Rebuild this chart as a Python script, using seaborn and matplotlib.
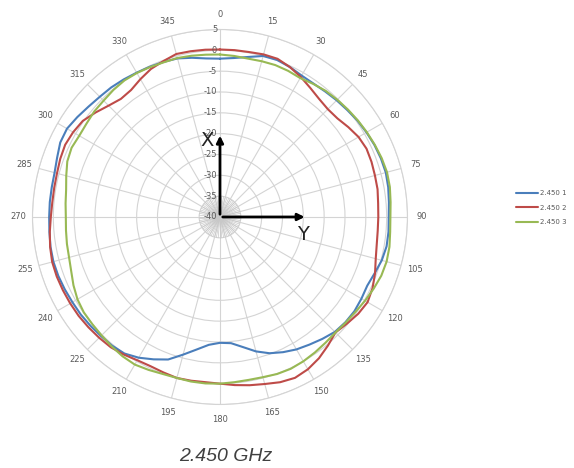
import numpy as np
import pandas as pd
import matplotlib
matplotlib.use("Agg")
import matplotlib.pyplot as plt
import matplotlib.transforms as mtransforms
import seaborn as sns

# angles (deg) measured every 5 degrees
angles = list(range(0, 360, 5))

# gain in dB
serie_1 = [-2.0, -1.7, -1.0, 0.0, 0.1, -0.3, -0.8, -0.9, -0.7, -0.4, -0.1, 0.3,
           0.6, 0.9, 1.1, 1.2, 1.0, 0.7, 0.5, 0.6, 0.6, 0.2, -0.5, -1.0,
           -0.8, -0.6, -0.7, -1.0, -1.8, -2.6, -3.3, -4.2, -5.2, -6.6, -8.3, -9.6,
           -9.8, -9.2, -7.7, -5.8, -3.6, -2.3, -1.0, 0.0, 0.3, 0.4, 0.6, 0.8,
           0.9, 1.1, 1.3, 1.4, 1.3, 1.1, 1.0, 1.0, 1.0, 1.1, 1.6, 2.3,
           2.4, 1.8, 1.2, 0.8, 0.6, 0.3, 0.0, -0.2, -0.4, -0.6, -1.2, -1.8]
serie_2 = [0.2, 0.2, 0.2, 0.4, 0.4, -0.3, -1.2, -2.2, -3.0, -3.4, -3.2, -2.4,
           -1.6, -1.2, -1.3, -1.5, -1.6, -1.9, -2.0, -2.0, -1.8, -1.3, -0.4, 0.4,
           0.9, 0.5, -0.2, -0.8, 0.3, 1.4, 2.2, 2.6, 2.2, 1.5, 1.0, 0.5,
           0.0, -0.2, -0.1, 0.0, -0.3, -0.5, -0.3, 0.3, 0.8, 1.0, 1.2, 1.4,
           1.5, 1.6, 1.7, 1.7, 1.4, 1.0, 0.6, 0.4, 0.4, 0.5, 0.8, 1.0,
           0.7, 0.2, -1.0, -2.2, -3.0, -2.8, -1.8, -0.8, -0.2, 0.5, 0.4, 0.3]
serie_3 = [-1.0, -1.2, -1.4, -1.3, -1.2, -1.3, -1.5, -1.0, -0.5, -0.2, 0.1, 0.4,
           0.7, 1.0, 1.3, 1.5, 1.4, 1.1, 0.9, 1.0, 1.3, 1.4, 1.2, 0.7,
           0.2, -0.3, -0.6, -0.8, -0.6, -0.3, 0.0, 0.2, 0.1, -0.2, -0.3, -0.2,
           0.0, 0.1, 0.1, 0.0, 0.1, 0.5, 0.9, 0.8, 0.5, 0.2, 0.0, -0.1,
           -0.5, -1.2, -2.0, -2.5, -2.7, -2.9, -3.0, -2.8, -2.5, -1.8, -1.0, -0.7,
           -1.0, -0.9, -0.6, -0.5, -0.2, 0.0, -0.1, -0.3, -0.5, -0.5, -0.7, -0.9]

noms = ["2.450 1", "2.450 2", "2.450 3"]
couleurs = {"2.450 1": "#4A7EBB", "2.450 2": "#BE4B48", "2.450 3": "#98B954"}
r_ticks = list(range(-40, 6, 5))
theta_ticks = list(range(0, 360, 15))

# tableau long, boucle fermee
rows = []
for nom, vals in zip(noms, [serie_1, serie_2, serie_3]):
    for a, v in zip(angles + [360], vals + [vals[0]]):
        rows.append({"theta": np.deg2rad(a), "dB": v, "serie": nom})
df = pd.DataFrame(rows)

sns.set_style("white")
fig = plt.figure(figsize=(5.74, 4.68), dpi=100)
ax = fig.add_axes([0.0566, 0.1357, 0.6533, 0.8013], projection="polar")
ax.set_theta_zero_location("N")
ax.set_theta_direction(-1)

sns.lineplot(data=df, x="theta", y="dB", hue="serie", palette=couleurs,
             sort=False, estimator=None, lw=1.5, ax=ax, legend=False)

ax.set_ylim(-40, 5)
ax.set_yticks(r_ticks)
ax.set_yticklabels([])
ax.set_thetagrids(theta_ticks, labels=[str(a) for a in theta_ticks])
ax.tick_params(axis="x", pad=0, labelsize=6, colors="#595959")
ax.grid(True, color="#d4d4d4", lw=0.8)
ax.spines["polar"].set_color("#d4d4d4")
ax.spines["polar"].set_linewidth(0.8)
ax.set_xlabel("")
ax.set_ylabel("")

# rayons fins au centre
for a in range(0, 360, 5):
    ax.plot([np.deg2rad(a)] * 2, [-40, -35], color="#c8c8c8", lw=0.5, zorder=1)

# etiquettes radiales
trans = mtransforms.offset_copy(ax.transData, fig=fig, x=-2, y=0, units="points")
for r in r_ticks:
    ax.text(0, r, str(r), transform=trans, ha="right", va="center",
            fontsize=6, color="#595959")

# fleches X / Y
ax.annotate("", xy=(0, -19.8), xytext=(0, -40),
            arrowprops=dict(arrowstyle="-|>", color="black", lw=2, mutation_scale=10))
ax.annotate("", xy=(np.pi / 2, -19.0), xytext=(0, -40),
            arrowprops=dict(arrowstyle="-|>", color="black", lw=2, mutation_scale=10))
fig.text(0.361, 0.70, "X", fontsize=14, ha="center", va="center", color="#222222")
fig.text(0.527, 0.500, "Y", fontsize=14, ha="center", va="center", color="#222222")

# legende
handles = [plt.Line2D([], [], color=couleurs[n], lw=1.5) for n in noms]
fig.legend(handles, noms, loc="center left", bbox_to_anchor=(0.888, 0.556),
           frameon=False, fontsize=5, handlelength=3.2, labelspacing=1.2,
           handletextpad=0.2, labelcolor="#595959")

fig.text(0.394, 0.024, "2.450 GHz", fontsize=14, style="italic", ha="center",
         va="center", color="#404040", family="Liberation Sans")

fig.savefig("out.png", dpi=100)
